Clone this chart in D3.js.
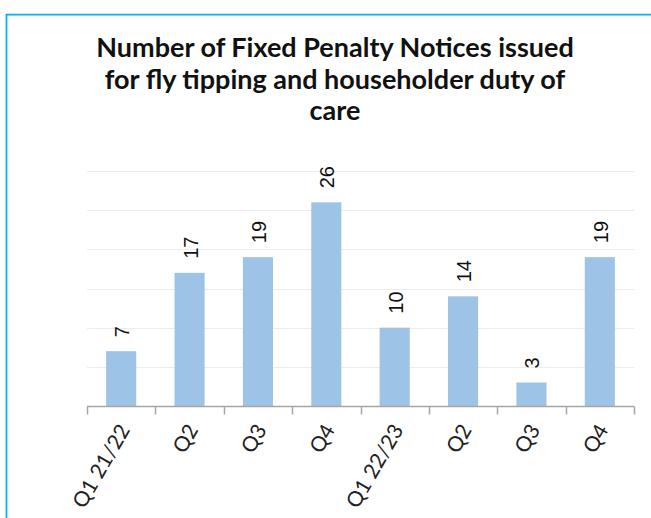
<!DOCTYPE html>
<html>
<head>
<meta charset="utf-8">
<script src="https://cdn.jsdelivr.net/npm/d3@7"></script>
<style>
  html, body { margin: 0; padding: 0; background: #fff; }
  svg { display: block; }
</style>
</head>
<body>
<div id="chart"></div>
<script>
const quarters = ['Q1 21/22', 'Q2', 'Q3', 'Q4', 'Q1 22/23', 'Q2', 'Q3', 'Q4'];
const notices = [7, 17, 19, 26, 10, 14, 3, 19];
const gridValues = [5, 10, 15, 20, 25, 30];
const titleLines = [
  'Number of Fixed Penalty Notices issued',
  'for fly tipping and householder duty of',
  'care'
];

const width = 651;
const height = 518;
const plot = { left: 87, right: 634, top: 171, bottom: 406 };

const svg = d3.select('#chart')
  .append('svg')
  .attr('width', width)
  .attr('height', height);

// chart border (only top + left visible in the crop)
svg.append('path')
  .attr('d', `M6.5,${height} V14.5 H${width}`)
  .attr('fill', 'none')
  .attr('stroke', '#00b0f0')
  .attr('stroke-width', 1.75);

// Title
svg.append('g')
  .selectAll('text')
  .data(titleLines)
  .join('text')
  .attr('x', 335)
  .attr('y', (d, i) => 57 + i * 31.5)
  .attr('text-anchor', 'middle')
  .attr('font-family', 'Lato, "Open Sans", sans-serif')
  .attr('font-weight', 700)
  .attr('font-size', '27px')
  .attr('fill', '#111')
  .text(d => d);

// Scales
const idx = d3.range(quarters.length);
const x = d3.scaleBand()
  .domain(idx)
  .range([plot.left, plot.right])
  .padding(0);

const y = d3.scaleLinear()
  .domain([0, 30])
  .range([plot.bottom, plot.top]);

// Gridlines
svg.append('g')
  .selectAll('line')
  .data(gridValues)
  .join('line')
  .attr('x1', plot.left)
  .attr('x2', plot.right)
  .attr('y1', d => Math.round(y(d)) + 0.5)
  .attr('y2', d => Math.round(y(d)) + 0.5)
  .attr('stroke', '#ececec')
  .attr('stroke-width', 1);

// Bars
const barW = x.bandwidth() * 0.44;
svg.append('g')
  .selectAll('rect')
  .data(notices)
  .join('rect')
  .attr('x', (d, i) => x(i) + (x.bandwidth() - barW) / 2)
  .attr('y', d => y(d))
  .attr('width', barW)
  .attr('height', d => y(0) - y(d))
  .attr('fill', '#9dc3e6');

// Value labels (rotated)
svg.append('g')
  .selectAll('text')
  .data(notices)
  .join('text')
  .attr('transform', (d, i) => `translate(${x(i) + x.bandwidth() / 2 + 1},${y(d) - 14}) rotate(-90)`)
  .attr('dy', '0.35em')
  .attr('text-anchor', 'start')
  .attr('font-family', '"Liberation Sans", Arial, sans-serif')
  .attr('font-size', '20px')
  .attr('fill', '#111')
  .text(d => d);

// X axis: line + ticks at band edges
const axisG = svg.append('g')
  .attr('transform', `translate(0,${plot.bottom + 0.5})`);

axisG.append('line')
  .attr('x1', plot.left)
  .attr('x2', plot.right)
  .attr('stroke', '#a6a6a6')
  .attr('stroke-width', 1.5);

const edges = idx.map(i => x(i)).concat([plot.right]);
axisG.selectAll('.tick')
  .data(edges)
  .join('line')
  .attr('class', 'tick')
  .attr('x1', d => Math.round(d) + 0.5)
  .attr('x2', d => Math.round(d) + 0.5)
  .attr('y1', 0)
  .attr('y2', 8)
  .attr('stroke', '#a6a6a6')
  .attr('stroke-width', 1.5);

// Category labels rotated -60
svg.append('g')
  .selectAll('text')
  .data(quarters)
  .join('text')
  .attr('transform', (d, i) => `translate(${x(i) + x.bandwidth() / 2 + 3},${plot.bottom + 20}) rotate(-60)`)
  .attr('dy', '0.35em')
  .attr('text-anchor', 'end')
  .attr('font-family', 'Lato, "Open Sans", sans-serif')
  .attr('font-size', '21px')
  .attr('fill', '#222')
  .text(d => d);
</script>
</body>
</html>
